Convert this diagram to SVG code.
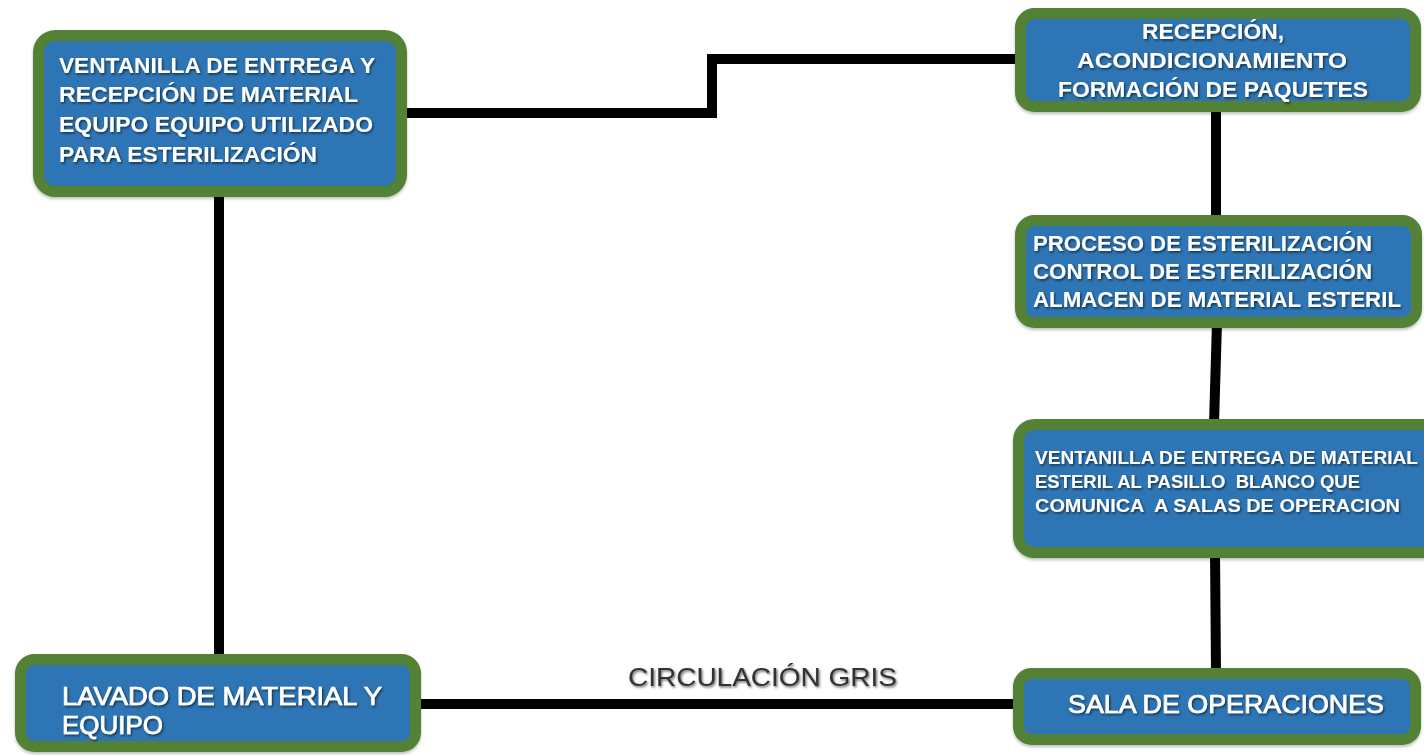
<svg xmlns="http://www.w3.org/2000/svg" width="1424" height="755" viewBox="0 0 1424 755">
<defs>
<filter id="ts" x="-5%" y="-30%" width="110%" height="160%">
<feDropShadow dx="1.2" dy="1.5" stdDeviation="0.8" flood-color="#000" flood-opacity="0.6"/>
</filter>
<filter id="bs" x="-5%" y="-10%" width="110%" height="125%">
<feDropShadow dx="0" dy="2" stdDeviation="1.5" flood-color="#000" flood-opacity="0.25"/>
</filter>
</defs>
<style>
.box{fill:#2E74B5;stroke:#538135;stroke-width:11;filter:url(#bs)}
.t{font-family:"Liberation Sans",Arial,sans-serif;font-weight:bold;fill:#fff;filter:url(#ts);white-space:pre}
.t1{font-size:22px}
.t4{font-size:18px}
.tm{font-family:"Liberation Sans",Arial,sans-serif;font-weight:normal;fill:#fff;stroke:#fff;stroke-width:0.7;filter:url(#ts)}
.lbl{font-family:"Liberation Sans",Arial,sans-serif;font-size:25px;fill:#333;filter:url(#ts)}
.c{fill:none;stroke:#000;stroke-width:10}
</style>
<g id="connectors">
<polyline class="c" points="400,113 712,113 712,59 1020,59"/>
<line class="c" x1="219" y1="190" x2="219" y2="660"/>
<line class="c" x1="1216" y1="106" x2="1216" y2="220"/>
<line class="c" x1="1217" y1="322" x2="1214" y2="424"/>
<line class="c" x1="1215" y1="552" x2="1216" y2="672"/>
<line class="c" x1="415" y1="704" x2="1018" y2="704"/>
</g>
<g id="lbl-circulacion">
<text class="lbl" x="628" y="686" textLength="269" lengthAdjust="spacingAndGlyphs">CIRCULACIÓN GRIS</text>
</g>
<g id="n1">
<rect class="box" x="38.5" y="35.5" width="363" height="156" rx="17"/>
<text class="t t1" x="59" y="73" textLength="316" lengthAdjust="spacingAndGlyphs">VENTANILLA DE ENTREGA Y</text>
<text class="t t1" x="59" y="102" textLength="299" lengthAdjust="spacingAndGlyphs">RECEPCIÓN DE MATERIAL</text>
<text class="t t1" x="59" y="132" textLength="314" lengthAdjust="spacingAndGlyphs">EQUIPO EQUIPO UTILIZADO</text>
<text class="t t1" x="59" y="162" textLength="258" lengthAdjust="spacingAndGlyphs">PARA ESTERILIZACIÓN</text>
</g>
<g id="n2">
<rect class="box" x="1020.5" y="13.5" width="395" height="93" rx="14"/>
<text class="t t1" x="1142" y="39" textLength="142" lengthAdjust="spacingAndGlyphs">RECEPCIÓN,</text>
<text class="t t1" x="1077" y="68" textLength="270" lengthAdjust="spacingAndGlyphs">ACONDICIONAMIENTO</text>
<text class="t t1" x="1058" y="97" textLength="310" lengthAdjust="spacingAndGlyphs">FORMACIÓN DE PAQUETES</text>
</g>
<g id="n3">
<rect class="box" x="1020.5" y="220.5" width="396" height="102" rx="14"/>
<text class="t t1" x="1033" y="251" textLength="339" lengthAdjust="spacingAndGlyphs">PROCESO DE ESTERILIZACIÓN</text>
<text class="t t1" x="1033" y="279" textLength="339" lengthAdjust="spacingAndGlyphs">CONTROL DE ESTERILIZACIÓN</text>
<text class="t t1" x="1033" y="307" textLength="368" lengthAdjust="spacingAndGlyphs">ALMACEN DE MATERIAL ESTERIL</text>
</g>
<g id="n4">
<rect class="box" x="1018.5" y="424.5" width="420" height="128" rx="16"/>
<text class="t t4" x="1035" y="464" textLength="383" lengthAdjust="spacingAndGlyphs">VENTANILLA DE ENTREGA DE MATERIAL</text>
<text class="t t4" x="1035" y="488" textLength="325" lengthAdjust="spacingAndGlyphs">ESTERIL AL PASILLO  BLANCO QUE</text>
<text class="t t4" x="1035" y="512" textLength="365" lengthAdjust="spacingAndGlyphs">COMUNICA  A SALAS DE OPERACION</text>
</g>
<g id="n5">
<rect class="box" x="20.5" y="659.5" width="395" height="87" rx="14"/>
<text class="tm" x="62" y="705" font-size="25" textLength="320" lengthAdjust="spacingAndGlyphs">LAVADO DE MATERIAL Y</text>
<text class="tm" x="62" y="734" font-size="25" textLength="101" lengthAdjust="spacingAndGlyphs">EQUIPO</text>
</g>
<g id="n6">
<rect class="box" x="1018.5" y="673.5" width="397" height="66" rx="13"/>
<text class="tm" x="1068" y="713" font-size="25" textLength="316" lengthAdjust="spacingAndGlyphs">SALA DE OPERACIONES</text>
</g>
</svg>
